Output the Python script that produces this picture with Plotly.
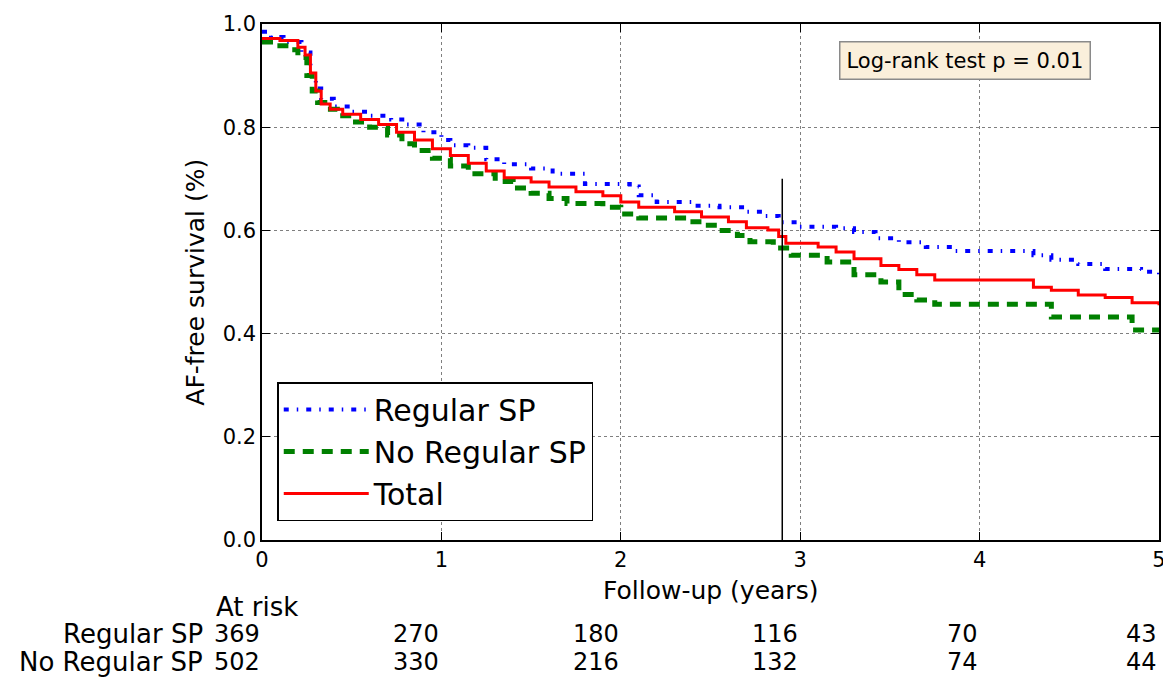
import plotly.graph_objects as go

# Kaplan-Meier style step data
reg_t = [0, 0.05, 0.12, 0.22, 0.27, 0.3, 0.33, 0.4, 0.5, 0.6, 0.72, 0.8, 0.9, 1.0, 1.05, 1.15, 1.25, 1.35, 1.5, 1.62, 1.8, 2.05, 2.1, 2.2, 2.4, 2.55, 2.7, 2.8, 2.88, 2.98, 3.2, 3.3, 3.42, 3.55, 3.7, 3.85, 4.2, 4.3, 4.4, 4.55, 4.7, 4.9, 5.0]
reg_s = [0.985, 0.975, 0.965, 0.945, 0.90, 0.875, 0.855, 0.84, 0.83, 0.822, 0.815, 0.805, 0.79, 0.775, 0.765, 0.76, 0.738, 0.728, 0.72, 0.71, 0.69, 0.685, 0.668, 0.655, 0.648, 0.645, 0.636, 0.628, 0.616, 0.607, 0.604, 0.597, 0.585, 0.577, 0.568, 0.56, 0.56, 0.552, 0.543, 0.535, 0.525, 0.52, 0.512]

noreg_t = [0, 0.08, 0.15, 0.2, 0.25, 0.28, 0.31, 0.35, 0.42, 0.5, 0.6, 0.7, 0.78, 0.85, 0.95, 1.05, 1.15, 1.3, 1.4, 1.5, 1.6, 1.7, 1.9, 2.0, 2.1, 2.35, 2.45, 2.55, 2.65, 2.72, 2.85, 2.95, 3.15, 3.3, 3.45, 3.55, 3.65, 3.75, 4.3, 4.4, 4.75, 4.85, 5.0]
noreg_s = [0.965, 0.958, 0.95, 0.935, 0.9, 0.87, 0.848, 0.835, 0.822, 0.81, 0.8, 0.785, 0.768, 0.755, 0.74, 0.725, 0.71, 0.695, 0.682, 0.672, 0.662, 0.652, 0.645, 0.632, 0.624, 0.617, 0.61, 0.6, 0.59, 0.578, 0.566, 0.552, 0.539, 0.514, 0.5, 0.476, 0.465, 0.457, 0.457, 0.432, 0.432, 0.407, 0.405]

total_t = [0, 0.1, 0.2, 0.24, 0.27, 0.3, 0.33, 0.38, 0.45, 0.55, 0.65, 0.75, 0.85, 0.95, 1.05, 1.15, 1.25, 1.35, 1.5, 1.6, 1.75, 1.9, 2.0, 2.1, 2.3, 2.45, 2.6, 2.7, 2.82, 2.88, 2.92, 3.1, 3.2, 3.3, 3.45, 3.55, 3.65, 3.75, 4.25, 4.3, 4.4, 4.55, 4.7, 4.85, 5.0]
total_s = [0.972, 0.968, 0.955, 0.94, 0.905, 0.87, 0.845, 0.835, 0.825, 0.815, 0.805, 0.79, 0.775, 0.758, 0.745, 0.73, 0.715, 0.702, 0.694, 0.684, 0.675, 0.667, 0.655, 0.645, 0.636, 0.626, 0.617, 0.605, 0.601, 0.588, 0.575, 0.568, 0.558, 0.545, 0.532, 0.524, 0.514, 0.504, 0.504, 0.49, 0.484, 0.475, 0.47, 0.46, 0.455]

marker_t = [2.9, 2.9]
marker_s = [0.0, 0.70]

x_ticks = [0, 1, 2, 3, 4, 5]
y_ticks = [0.0, 0.2, 0.4, 0.6, 0.8, 1.0]
risk_regular = [369, 270, 180, 116, 70, 43]
risk_noregular = [502, 330, 216, 132, 74, 44]

FONT = "DejaVu Sans"

fig = go.Figure()
fig.add_trace(go.Scatter(x=reg_t, y=reg_s, mode="lines", name="Regular SP",
                         line=dict(color="#0000ff", width=4, dash="5px,8px,1.5px,8px", shape="hv")))
fig.add_trace(go.Scatter(x=noreg_t, y=noreg_s, mode="lines", name="No Regular SP",
                         line=dict(color="#008000", width=5, dash="11px,8px", shape="hv")))
fig.add_trace(go.Scatter(x=total_t, y=total_s, mode="lines", name="Total",
                         line=dict(color="#ff0000", width=3, shape="hv")))
fig.add_trace(go.Scatter(x=marker_t, y=marker_s, mode="lines", showlegend=False,
                         line=dict(color="black", width=1.5)))

ann = []
# At-risk table
ann.append(dict(text="At risk", x=-0.053, y=-0.13, xref="paper", yref="paper",
                xanchor="left", yanchor="middle", showarrow=False, font=dict(size=26, color="black")))
ann.append(dict(text="Regular SP", x=-0.063, y=-0.183, xref="paper", yref="paper",
                xanchor="right", yanchor="middle", showarrow=False, font=dict(size=26, color="black")))
ann.append(dict(text="No Regular SP", x=-0.063, y=-0.237, xref="paper", yref="paper",
                xanchor="right", yanchor="middle", showarrow=False, font=dict(size=26, color="black")))
for xv, a, b in zip(x_ticks, risk_regular, risk_noregular):
    ann.append(dict(text=str(a), x=xv, y=-0.183, xref="x", yref="paper",
                    xanchor="right", yanchor="middle", showarrow=False, font=dict(size=24, color="black")))
    ann.append(dict(text=str(b), x=xv, y=-0.237, xref="x", yref="paper",
                    xanchor="right", yanchor="middle", showarrow=False, font=dict(size=24, color="black")))
# Axis titles
ann.append(dict(text="Follow-up (years)", x=0.5, y=-0.098, xref="paper", yref="paper",
                xanchor="center", yanchor="middle", showarrow=False, font=dict(size=25, color="black")))
ann.append(dict(text="AF-free survival (%)", x=-0.075, y=0.5, xref="paper", yref="paper", textangle=-90,
                xanchor="center", yanchor="middle", showarrow=False, font=dict(size=25, color="black")))
# Log-rank box
ann.append(dict(text="Log-rank test p = 0.01", x=3.92, y=0.93, xref="x", yref="y",
                xanchor="center", yanchor="middle", showarrow=False, font=dict(size=21, color="black"),
                bgcolor="#faefdb", bordercolor="#8a8a8a", borderwidth=1.5, borderpad=6))

fig.update_layout(
    width=1163, height=670,
    margin=dict(l=254, r=12, t=16, b=138, autoexpand=False),
    paper_bgcolor="white", plot_bgcolor="white",
    font=dict(family=FONT, color="black"),
    annotations=ann,
    showlegend=True,
    legend=dict(x=0.017, y=0.306, xanchor="left", yanchor="top",
                bordercolor="black", borderwidth=1.5, bgcolor="white",
                font=dict(size=30, family=FONT), itemwidth=85, tracegroupgap=0),
)
fig.update_xaxes(range=[0, 5], tickvals=x_ticks, ticktext=[str(v) for v in x_ticks],
                 showgrid=True, gridcolor="#7f7f7f", griddash="dot", gridwidth=1,
                 showline=True, linecolor="black", linewidth=1.5, mirror="ticks",
                 ticks="inside", ticklen=8, tickcolor="black", tickfont=dict(size=21),
                 zeroline=False, automargin=False)
fig.update_yaxes(range=[0, 1], tickvals=y_ticks, ticktext=[f"{v:.1f}" for v in y_ticks],
                 showgrid=True, gridcolor="#7f7f7f", griddash="dot", gridwidth=1,
                 showline=True, linecolor="black", linewidth=1.5, mirror="ticks",
                 ticks="inside", ticklen=8, tickcolor="black", tickfont=dict(size=21),
                 zeroline=False, automargin=False)

fig.write_html("out.html")
